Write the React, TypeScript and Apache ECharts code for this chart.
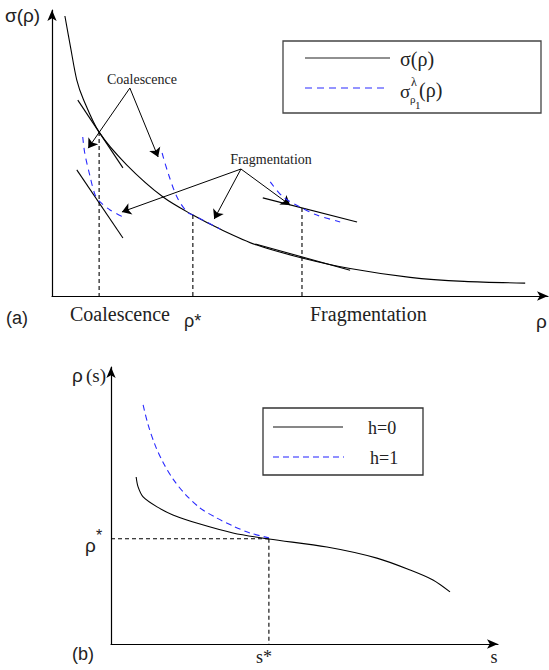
import { useEffect, useRef } from 'react';
import * as echarts from 'echarts';

const SERIF = '"Liberation Serif", "Times New Roman", serif';
const SANS = '"Liberation Sans", Arial, sans-serif';
const BLUE = '#2a2aff';
const BLUE_LIGHT = '#6b6bff';

// ---------- Panel (a): sigma(rho) ----------
const sigmaRho = [0.26, 0.38, 0.5, 0.63, 0.95, 1.51, 2.24, 2.84, 3.39, 4.13, 5.04, 6.01, 7.22, 8.31, 9.54];
const sigmaVal = [9.79, 8.64, 7.55, 6.89, 5.73, 4.58, 3.46, 2.83, 2.34, 1.78, 1.33, 0.96, 0.65, 0.51, 0.45];

const coalTangentUpper = [[0.52, 6.85], [1.43, 4.48]];
const coalTangentLower = [[0.5, 4.41], [1.43, 2.03]];
const fragTangentUpper = [[4.25, 3.43], [6.15, 2.59]];
const fragTangentLower = [[4.1, 1.82], [6.01, 0.9]];

const blueCoal1Rho = [0.62, 0.66, 0.77, 0.87, 0.97, 1.17, 1.47];
const blueCoal1Val = [5.56, 5.0, 4.16, 3.53, 3.29, 3.01, 2.73];
const blueCoal2Rho = [2.22, 2.34, 2.52, 2.72, 2.84, 3.08, 3.39];
const blueCoal2Val = [5.0, 4.3, 3.46, 2.94, 2.83, 2.62, 2.34];
const blueFragRho = [4.4, 4.66, 5.0, 5.34, 5.81];
const blueFragVal = [3.99, 3.46, 3.11, 2.83, 2.59];

const dropRho = [0.95, 2.84, 5.04];
const dropVal = [5.73, 2.83, 3.08];

const coalArrowFrom = [1.57, 7.27];
const coalArrowTo = [[0.73, 5.17], [2.14, 4.86]];
const fragArrowFrom = [3.81, 4.44];
const fragArrowTo = [[1.41, 2.94], [3.27, 2.69], [4.8, 3.18]];

// ---------- Panel (b): rho(s) ----------
const h0S = [0.65, 0.7, 0.83, 1.19, 1.6, 2.3, 3.15, 4.08, 5.58, 6.87, 7.73, 8.32, 8.76];
const h0R = [6.03, 5.67, 5.31, 4.95, 4.66, 4.33, 4.01, 3.79, 3.5, 3.1, 2.67, 2.31, 1.88];
const h1S = [0.83, 0.96, 1.14, 1.34, 1.6, 1.91, 2.3, 2.69, 3.15, 3.59, 4.08];
const h1R = [8.63, 7.91, 7.18, 6.57, 5.96, 5.42, 4.91, 4.58, 4.26, 4.01, 3.83];
const sStar = 4.08;
const rhoStar = 3.8;

const zip = (xs: number[], ys: number[]) => xs.map((x, i) => [x, ys[i]]);

function lineS(data: number[][], grid: number, color: string, dash: any, smooth: number | boolean, width = 1.1) {
  return {
    type: 'line',
    xAxisIndex: grid,
    yAxisIndex: grid,
    data,
    symbol: 'none',
    showSymbol: false,
    smooth,
    silent: true,
    lineStyle: { color, width, type: dash },
  };
}

function axisX(grid: number) {
  return {
    gridIndex: grid,
    type: 'value',
    min: 0,
    max: 10,
    axisLine: { show: true, onZero: false, symbol: ['none', 'arrow'], symbolSize: [7, 11], lineStyle: { color: '#000', width: 1.2 } },
    axisTick: { show: false },
    axisLabel: { show: false },
    splitLine: { show: false },
  };
}

function txt(text: string, x: number, y: number, font: string, align = 'left') {
  return {
    type: 'text',
    x,
    y,
    silent: true,
    style: { text, font, fill: '#222', textAlign: align, textVerticalAlign: 'middle', align, verticalAlign: 'middle' },
  };
}

function seg(x1: number, y1: number, x2: number, y2: number, stroke: string, dash?: number[], w = 1.2) {
  return {
    type: 'line',
    silent: true,
    shape: { x1, y1, x2, y2 },
    style: { stroke, lineWidth: w, lineDash: dash },
  };
}

export default function App() {
  const ref = useRef<HTMLDivElement>(null);
  useEffect(() => {
    const chart = echarts.init(ref.current!, null, { renderer: 'svg' });
    const option: any = {
      animation: false,
      backgroundColor: '#fff',
      grid: [
        { left: 52, top: 10, width: 496, height: 286 },
        { left: 111, top: 367, width: 387, height: 277 },
      ],
      xAxis: [axisX(0), axisX(1)],
      yAxis: [axisX(0), axisX(1)],
      series: [
        lineS(zip(sigmaRho, sigmaVal), 0, '#000', 'solid', 0.3),
        lineS(coalTangentUpper, 0, '#000', 'solid', false),
        lineS(coalTangentLower, 0, '#000', 'solid', false),
        lineS(fragTangentUpper, 0, '#000', 'solid', false),
        lineS(fragTangentLower, 0, '#000', 'solid', false),
        lineS(zip(blueCoal1Rho, blueCoal1Val), 0, BLUE, [6, 5], 0.3),
        lineS(zip(blueCoal2Rho, blueCoal2Val), 0, BLUE, [6, 5], 0.3),
        lineS(zip(blueFragRho, blueFragVal), 0, BLUE, [6, 5], 0.3),
        ...dropRho.map((r, i) => lineS([[r, dropVal[i]], [r, 0]], 0, '#000', [4, 3], false)),
        {
          type: 'lines',
          coordinateSystem: 'cartesian2d',
          xAxisIndex: 0,
          yAxisIndex: 0,
          symbol: ['none', 'arrow'],
          symbolSize: [7, 9],
          silent: true,
          lineStyle: { color: '#000', width: 1, opacity: 1, curveness: 0 },
          data: [
            ...coalArrowTo.map((t) => ({ coords: [coalArrowFrom, t] })),
            ...fragArrowTo.map((t) => ({ coords: [fragArrowFrom, t] })),
          ],
        },
        // panel (b)
        lineS(zip(h0S, h0R), 1, '#000', 'solid', 0.3),
        lineS(zip(h1S, h1R), 1, BLUE, [6, 4], 0.3),
        lineS([[0, rhoStar], [sStar, rhoStar]], 1, '#000', [4, 3], false),
        lineS([[sStar, rhoStar], [sStar, 0]], 1, '#000', [4, 3], false),
      ],
      graphic: [
        // panel (a) labels
        txt('σ(ρ)', 5, 15, `19px ${SANS}`),
        txt('(a)', 6, 318, `18px ${SANS}`),
        txt('ρ', 536, 321, `19px ${SANS}`),
        txt('Coalescence', 70, 314, `20px ${SERIF}`),
        txt('ρ*', 184, 321, `18px ${SANS}`),
        txt('Fragmentation', 310, 314, `20px ${SERIF}`),
        txt('Coalescence', 142, 79, `14px ${SERIF}`, 'center'),
        txt('Fragmentation', 271, 159, `14px ${SERIF}`, 'center'),
        // legend (a)
        {
          type: 'rect',
          silent: true,
          shape: { x: 283, y: 41, width: 258, height: 72 },
          style: { fill: 'none', stroke: '#444', lineWidth: 1.3 },
        },
        seg(305, 58, 390, 58, '#222'),
        txt('σ(ρ)', 400, 59, `20px ${SERIF}`),
        seg(305, 88, 388, 88, BLUE, [7, 5]),
        txt('σ', 400, 91, `19px ${SERIF}`),
        txt('λ', 411, 82, `12px ${SERIF}`),
        txt('ρ', 410, 99, `11px ${SERIF}`),
        txt('1', 415, 105, `11px ${SERIF}`),
        txt('(ρ)', 419, 90, `20px ${SERIF}`),
        // panel (b) labels
        txt('ρ', 72, 375, `19px ${SANS}`),
        txt('(s)', 86, 375, `19px ${SERIF}`),
        txt('ρ', 85, 545, `19px ${SANS}`),
        txt('*', 96, 535, `16px ${SANS}`),
        txt('(b)', 72, 654, `18px ${SANS}`),
        txt('s*', 264, 657, `18px ${SERIF}`, 'center'),
        txt('s', 494, 657, `18px ${SERIF}`, 'center'),
        // legend (b)
        {
          type: 'rect',
          silent: true,
          shape: { x: 263, y: 408, width: 160, height: 67 },
          style: { fill: 'none', stroke: '#333', lineWidth: 1.3 },
        },
        seg(273, 427, 343, 427, '#111'),
        txt('h=0', 368, 428, `18px ${SERIF}`),
        seg(273, 457, 344, 457, BLUE_LIGHT, [6, 4], 1.5),
        txt('h=1', 370, 458, `18px ${SERIF}`),
      ],
    };
    chart.setOption(option);
    return () => chart.dispose();
  }, []);
  return <div ref={ref} style={{ position: 'absolute', left: 0, top: 0, width: 549, height: 670 }} />;
}
